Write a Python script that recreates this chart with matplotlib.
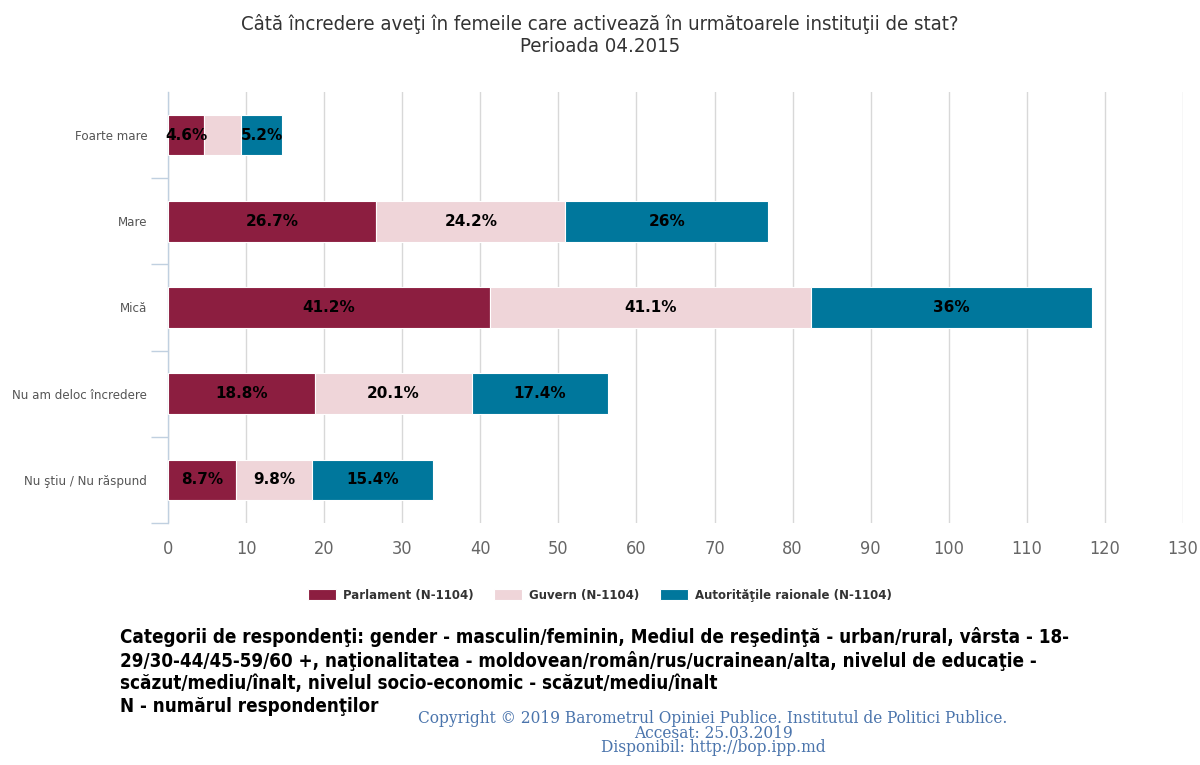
import matplotlib
matplotlib.use("Agg")
import matplotlib.pyplot as plt
import numpy as np

categories = ["Foarte mare", "Mare", "Mică", "Nu am deloc încredere", "Nu ştiu / Nu răspund"]
series_names = ["Parlament (N-1104)", "Guvern (N-1104)", "Autorităţile raionale (N-1104)"]
parlament = [4.6, 26.7, 41.2, 18.8, 8.7]
guvern = [4.8, 24.2, 41.1, 20.1, 9.8]
autoritati = [5.2, 26.0, 36.0, 17.4, 15.4]
labels_parlament = ["4.6%", "26.7%", "41.2%", "18.8%", "8.7%"]
labels_guvern = ["", "24.2%", "41.1%", "20.1%", "9.8%"]
labels_autoritati = ["5.2%", "26%", "36%", "17.4%", "15.4%"]
xticks = list(range(0, 131, 10))

colors = ["#8C1E40", "#EFD5D9", "#00779C"]

fig = plt.figure(figsize=(12, 7.65), dpi=100)
ax = fig.add_axes([0.14, 1 - 523 / 765, 0.9858 - 0.14, (523 - 92) / 765])

y = np.arange(len(categories))
left = np.zeros(len(categories))
all_series = [parlament, guvern, autoritati]
all_labels = [labels_parlament, labels_guvern, labels_autoritati]
for vals, col, labs, name in zip(all_series, colors, all_labels, series_names):
    vals = np.array(vals)
    ax.barh(y, vals, left=left, height=0.47, color=col, edgecolor="white", linewidth=0.8, label=name, zorder=3)
    for yi, l, v, t in zip(y, left, vals, labs):
        if t:
            ax.text(l + v / 2, yi, t, ha="center", va="center", fontsize=11, fontweight="bold",
                    color="black", zorder=4)
    left = left + vals

ax.set_ylim(len(categories) - 0.5, -0.5)
ax.set_xlim(0, 130)
ax.set_xticks(xticks)
ax.set_xticklabels([str(t) for t in xticks])
for t in ax.get_xticklabels():
    t.set_fontsize(13)
    t.set_color("#666666")
    t.set_fontstretch("condensed")
ax.set_yticks(y)
ax.set_yticklabels(categories, fontsize=8.6, color="#555555")
ax.tick_params(axis="y", length=0, pad=15)
ax.tick_params(axis="x", length=0, pad=12)
ax.set_yticks(np.arange(0.5, len(categories), 1), minor=True)
ax.tick_params(axis="y", which="minor", length=12, color="#C0D0E0", width=1)
ax.grid(axis="x", color="#D8D8D8", linewidth=1, zorder=0)
for s in ["top", "right", "bottom"]:
    ax.spines[s].set_visible(False)
ax.spines["left"].set_color("#C0D0E0")
ax.spines["left"].set_linewidth(1)

fig.text(0.5, 1 - 24 / 765, "Câtă încredere aveţi în femeile care activează în următoarele instituţii de stat?",
         ha="center", va="center", fontsize=14.6, color="#333333", fontstretch="condensed")
fig.text(0.5, 1 - 47 / 765, "Perioada 04.2015", ha="center", va="center", fontsize=14.6, color="#333333",
         fontstretch="condensed")

# legend
leg = fig.legend(loc="center", bbox_to_anchor=(0.5, 1 - 595 / 765), ncol=3, frameon=False,
                 fontsize=8.5, handlelength=2.4, handleheight=1.0, columnspacing=1.7, handletextpad=0.6)
for t in leg.get_texts():
    t.set_color("#333333")
    t.set_fontweight("bold")

foot_lines = ["Categorii de respondenţi: gender - masculin/feminin, Mediul de reşedinţă - urban/rural, vârsta - 18-",
              "29/30-44/45-59/60 +, naţionalitatea - moldovean/român/rus/ucrainean/alta, nivelul de educaţie -",
              "scăzut/mediu/înalt, nivelul socio-economic - scăzut/mediu/înalt",
              "N - numărul respondenţilor"]
foot_y = [637, 661, 684, 706]
for line, py in zip(foot_lines, foot_y):
    fig.text(120 / 1200, 1 - py / 765, line, ha="left", va="center", fontsize=13.5, fontweight="bold",
             color="black", fontstretch="condensed")

copy = ("Copyright © 2019 Barometrul Opiniei Publice. Institutul de Politici Publice.\n"
        "Accesat: 25.03.2019\nDisponibil: http://bop.ipp.md")
fig.text(713 / 1200, 1 - 733 / 765, copy, ha="center", va="center", fontsize=12.3, family="DejaVu Serif",
         color="#4A74AC", linespacing=0.78, fontstretch="condensed")

fig.savefig("out.png", dpi=100, facecolor="white")
